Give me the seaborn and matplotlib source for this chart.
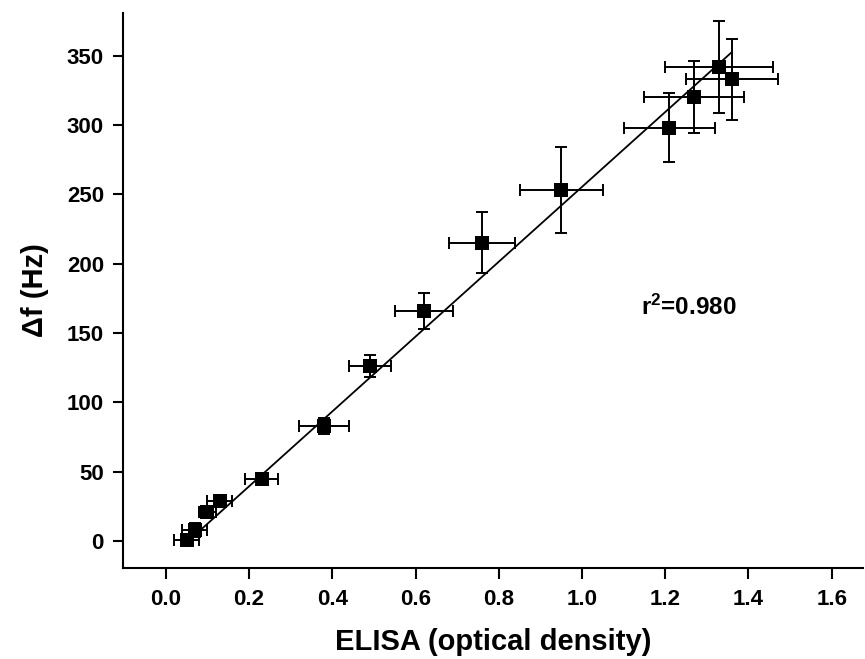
import numpy as np
import pandas as pd
import matplotlib
matplotlib.use("Agg")
import matplotlib.pyplot as plt
import seaborn as sns

# ── data ──────────────────────────────────────────────────────────────────────
elisa    = [0.05, 0.07, 0.10, 0.13, 0.23, 0.38, 0.49, 0.62, 0.76, 0.95, 1.21, 1.27, 1.33, 1.36]
delta_f  = [1, 8, 21, 29, 45, 83, 126, 166, 215, 253, 298, 320, 342, 333]
elisa_sd = [0.03, 0.03, 0.02, 0.03, 0.04, 0.06, 0.05, 0.07, 0.08, 0.10, 0.11, 0.12, 0.13, 0.11]
df_sd    = [4, 5, 3, 3, 3, 6, 8, 13, 22, 31, 25, 26, 33, 29]

fit_slope = 270.0
fit_intercept = -14.6
fit_range = [0.07, 1.36]
r_squared = 0.980

x_ticks = [0.0, 0.2, 0.4, 0.6, 0.8, 1.0, 1.2, 1.4, 1.6]
y_ticks = [0, 50, 100, 150, 200, 250, 300, 350]

df = pd.DataFrame({"elisa": elisa, "delta_f": delta_f,
                   "elisa_sd": elisa_sd, "df_sd": df_sd})
fit = pd.DataFrame({"elisa": fit_range})
fit["delta_f"] = fit_intercept + fit_slope * fit["elisa"]

sns.set_theme(style="ticks")
plt.rcParams["font.family"] = ["Liberation Sans", "DejaVu Sans"]
plt.rcParams["mathtext.fontset"] = "custom"
plt.rcParams["mathtext.rm"] = "Liberation Sans"
plt.rcParams["mathtext.bf"] = "Liberation Sans:bold"
plt.rcParams["text.color"] = "black"
plt.rcParams["axes.labelcolor"] = "black"

fig = plt.figure(figsize=(8.65, 6.59), dpi=100)
ax = fig.add_axes([0.1426, 0.1385, 0.855, 0.8413])

ax.errorbar(df["elisa"], df["delta_f"], xerr=df["elisa_sd"], yerr=df["df_sd"],
            fmt="none", ecolor="black", elinewidth=1.4, capsize=4.5, capthick=1.4,
            zorder=2)
sns.lineplot(data=fit, x="elisa", y="delta_f", color="black", linewidth=1.3,
             ax=ax, zorder=3)
sns.scatterplot(data=df, x="elisa", y="delta_f", marker="s", s=100,
                color="black", edgecolor="black", linewidth=0, ax=ax, zorder=4)

ax.text(1.141, 163, r"$\mathbf{r^2}$=" + f"{r_squared:.3f}", fontsize=17.5,
        fontweight="bold", ha="left", va="baseline", color="black")

ax.set_xlim(-0.102, 1.675)
ax.set_ylim(-19.3, 380.6)
ax.set_xticks(x_ticks)
ax.set_xticklabels([f"{v:.1f}" for v in x_ticks])
ax.set_yticks(y_ticks)
ax.set_yticklabels([str(v) for v in y_ticks])

for side in ["top", "right"]:
    ax.spines[side].set_visible(False)
for side in ["left", "bottom"]:
    ax.spines[side].set_linewidth(1.5)
    ax.spines[side].set_color("black")

ax.tick_params(axis="x", length=8, width=1.5, pad=7, labelsize=16, colors="black")
ax.tick_params(axis="y", length=7.5, width=1.5, pad=6.5, labelsize=16, colors="black")
for lab in ax.get_xticklabels() + ax.get_yticklabels():
    lab.set_fontweight("bold")

ax.set_xlabel("ELISA (optical density)", fontsize=21, fontweight="bold", labelpad=13)
ax.set_ylabel("Δf (Hz)", fontsize=21, fontweight="bold", labelpad=13)

fig.savefig("out.png", dpi=100)
